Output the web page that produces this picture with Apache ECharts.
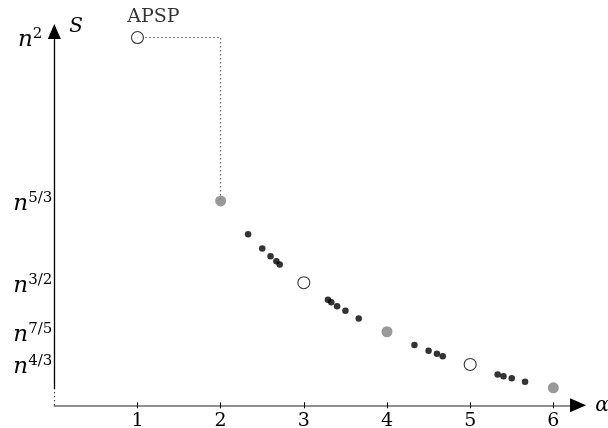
<!DOCTYPE html>
<html>
<head>
<meta charset="utf-8">
<script src="https://cdn.jsdelivr.net/npm/echarts@6/dist/echarts.min.js"></script>
<style>html,body{margin:0;padding:0;background:#fff;}#c{width:608px;height:428px;}</style>
</head>
<body>
<div id="c"></div>
<script>
// ---- data ----
const xTickValues = [1, 2, 3, 4, 5, 6];
const yTickValues = [2, 5/3, 3/2, 7/5, 4/3];
const yTickLabels = ['2', '5/3', '3/2', '7/5', '4/3'];

const openX = [1, 3, 5];
const openY = [2, 1.5, 1.3333];
const openNames = ['APSP', '', ''];

const grayX = [2, 4, 6];
const grayY = [1.6667, 1.4, 1.2857];

const dotX = [2.33, 2.50, 2.60, 2.67, 2.71, 3.29, 3.33, 3.40, 3.50, 3.66, 4.33, 4.50, 4.60, 4.67, 5.33, 5.40, 5.50, 5.66];
const dotY = [1.599, 1.570, 1.554, 1.544, 1.537, 1.465, 1.460, 1.452, 1.443, 1.427, 1.373, 1.361, 1.355, 1.350, 1.313, 1.309, 1.305, 1.298];

const guideX = [1, 2, 2];
const guideY = [2, 2, 1.6667];

// ---- chart ----
const FONT = 'DejaVu Serif';
const xMin = 0, xMax = 6.3, xLineEnd = 6.2, yMin = 1.25, yMax = 2.05;
const chart = echarts.init(document.getElementById('c'), null, {renderer: 'canvas'});

const zip = (a, b) => a.map((v, i) => [v, b[i]]);

const openData = openX.map((x, i) => {
  const item = {value: [x, openY[i]]};
  if (openNames[i]) {
    item.label = {show: true, formatter: openNames[i], position: 'top', distance: 4, offset: [16, 0],
      fontFamily: FONT, fontSize: 19, color: '#000'};
  }
  return item;
});

const axisTickCommon = {customValues: xTickValues, length: 3, lineStyle: {color: '#000', width: 1}};

chart.setOption({
  animation: false,
  backgroundColor: '#fff',
  grid: {left: 54.3, right: 29.7, top: 13, bottom: 22.7, containLabel: false, outerBoundsMode: 'none'},
  xAxis: [{
    type: 'value', min: xMin, max: xMax, interval: 1,
    name: 'α', nameLocation: 'end', nameGap: 17,
    nameTextStyle: {fontFamily: FONT, fontStyle: 'italic', fontSize: 20, color: '#000', verticalAlign: 'middle'},
    axisLine: {show: true, lineStyle: {color: '#6b6b6b', width: 1.6}},
    axisTick: Object.assign({show: true, inside: false}, axisTickCommon),
    axisLabel: {customValues: xTickValues, margin: 6, fontFamily: FONT, fontSize: 19, color: '#000'},
    splitLine: {show: false}
  }, {
    type: 'value', min: xMin, max: xMax, interval: 1, position: 'bottom', offset: 0,
    axisLine: {show: false},
    axisTick: Object.assign({show: true, inside: true}, axisTickCommon),
    axisLabel: {show: false},
    splitLine: {show: false}
  }],
  yAxis: {
    type: 'value', min: yMin, max: yMax,
    name: 'S', nameLocation: 'end', nameGap: -14,
    nameTextStyle: {fontFamily: FONT, fontStyle: 'italic', fontSize: 20, color: '#000', align: 'left', verticalAlign: 'middle', padding: [0, 0, 0, 15]},
    axisLine: {show: false},
    axisTick: {show: false},
    splitLine: {show: false},
    axisLabel: {
      customValues: yTickValues, margin: 2,
      formatter: function (v) {
        let best = 0, d = Infinity;
        yTickValues.forEach((t, i) => { if (Math.abs(t - v) < d) { d = Math.abs(t - v); best = i; } });
        const gap = yTickLabels[best].length === 1 ? '{g|}' : '';
        return '{n|n}{s|' + yTickLabels[best] + '}' + gap;
      },
      padding: [5, 0, 0, 0],
      rich: {
        n: {fontFamily: FONT, fontStyle: 'italic', fontSize: 23, lineHeight: 24, color: '#000', verticalAlign: 'bottom'},
        s: {fontFamily: FONT, fontSize: 15, lineHeight: 15, color: '#000', verticalAlign: 'bottom', padding: [0, 0, 10, 0]},
        g: {width: 10}
      }
    }
  },
  series: [{
    type: 'line', data: zip(guideX, guideY), symbol: 'none', silent: true, z: 1,
    lineStyle: {color: '#000', width: 1, type: [1, 3]},
    clip: false,
    markLine: {
      silent: true, symbol: ['none', 'none'], label: {show: false}, animation: false,
      emphasis: {disabled: true},
      data: [
        [{coord: [0, yMin], lineStyle: {color: '#000', width: 1.2, type: [1, 3]}}, {coord: [0, 1.2833]}],
        [{coord: [0, 1.2833], lineStyle: {color: '#000', width: 1.3, type: 'solid'}}, {coord: [0, 2.0122], symbol: 'triangle', symbolSize: [13, 15]}],
        [{coord: [xLineEnd, yMin], lineStyle: {color: '#000', width: 1, type: 'solid'}}, {coord: [6.297, yMin], symbol: 'triangle', symbolSize: [14, 16]}]
      ]
    }
  }, {
    type: 'scatter', data: zip(dotX, dotY), symbol: 'circle', symbolSize: 6.5, z: 3,
    itemStyle: {color: '#000'}, silent: true
  }, {
    type: 'scatter', data: zip(grayX, grayY), symbol: 'circle', symbolSize: 11, z: 3,
    itemStyle: {color: '#808080'}, silent: true
  }, {
    type: 'scatter', data: openData, symbol: 'circle', symbolSize: 12, z: 4,
    itemStyle: {color: '#fff', borderColor: '#000', borderWidth: 1.1}, silent: true
  }]
});
</script>
</body>
</html>
